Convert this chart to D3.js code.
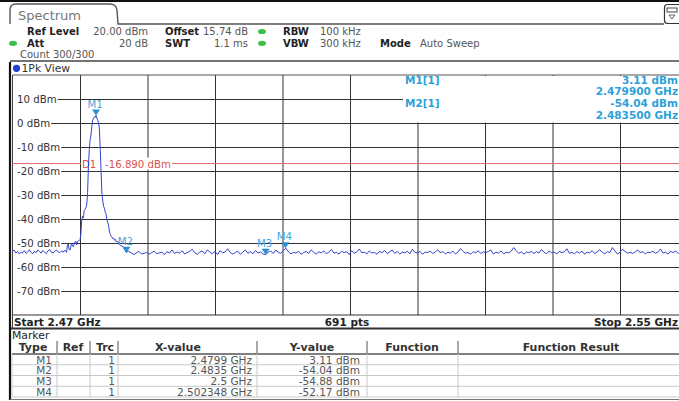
<!DOCTYPE html>
<html><head><meta charset="utf-8">
<script src="https://cdn.jsdelivr.net/npm/d3@7"></script>
<style>
html,body{margin:0;padding:0;background:#fff;}
svg{display:block;font-family:"DejaVu Sans",Verdana,sans-serif;}
</style></head><body>
<svg id="c" width="679" height="401"></svg>
<script>
// ---------- data ----------
const sweepStartGHz = 2.47, sweepStopGHz = 2.55;
const refLevelDbm = 20, refBottomDbm = -80;
const sweepPoints = 691;
const yGridDbm = [10, 0, -10, -20, -30, -40, -50, -60, -70];
const xGridGHz = [2.478, 2.486, 2.494, 2.502, 2.510, 2.518, 2.526, 2.534, 2.542];
const displayLineDbm = -16.89;

// trace: noise left of carrier, every 0.2 MHz from 2.4700 to 2.4764 GHz
const noiseLeftStartGHz = 2.4700, noiseLeftStepGHz = 0.0002;
const noiseLeftDbm = [-53.3,-53.0,-54.2,-53.5,-54.6,-53.9,-54.1,-53.2,-54.3,-53.8,
  -52.8,-53.9,-54.5,-53.4,-54.0,-52.9,-53.6,-54.2,-53.1,-53.9,
  -54.4,-53.3,-52.7,-53.8,-54.1,-53.5,-52.9,-53.7,-54.0,-53.3,
  -53.8,-53.0,-53.9];
// carrier region
const carrierFreqGHz = [2.4765,2.4766,2.4767,2.4768,2.4769,2.4770,2.4771,2.4772,2.4773,2.4774,
  2.4775,2.4776,2.4777,2.4778,2.4779,2.4780,2.4781,2.4782,2.4783,2.4784,
  2.4785,2.4786,2.4787,2.4788,2.4789,2.4790,2.4791,2.4792,2.4793,2.4794,
  2.4795,2.4796,2.4797,2.4798,2.4799,2.4800,2.4801,2.4802,2.4803,2.4804,
  2.4805,2.4806,2.4807,2.4808,2.4809,2.4810,2.4811,2.4812,2.4813,2.4814,
  2.4815,2.4816,2.4817,2.4818,2.4819,2.4820,2.4821,2.4822,2.4823,2.4825,
  2.4827,2.4829,2.4831,2.4833,2.4835,2.4837];
const carrierDbm = [-51.2,-50.4,-52.5,-53.0,-51.8,-50.0,-51.0,-51.6,-50.6,-49.6,
  -49.2,-50.8,-49.4,-49.1,-49.0,-48.6,-46.5,-40.5,-38.8,-39.5,
  -36.5,-36.0,-35.2,-34.0,-29.0,-18.0,-11.0,-7.0,-5.0,-1.5,
  1.2,1.8,2.6,2.4,3.11,2.0,1.2,0.2,-2.5,-11.0,
  -20.5,-29.5,-32.5,-34.8,-35.5,-37.2,-38.0,-40.5,-41.5,-43.0,
  -45.5,-46.5,-47.2,-47.5,-48.2,-48.0,-48.8,-48.5,-49.5,-49.4,
  -50.8,-51.2,-51.5,-52.8,-54.04,-53.2];
// noise right of carrier, every 0.3 MHz from 2.4838 to 2.5498 GHz
const noiseRightStartGHz = 2.4838, noiseRightStepGHz = 0.0003;
const noiseRightDbm = [
  -53.6,-54.2,-54.8,-54.1,-53.5,-54.6,-54.3,-53.9,-54.7,-54.0,
  -53.4,-54.5,-54.1,-53.8,-54.9,-53.6,-54.2,-52.9,-54.4,-53.7,
  -54.3,-53.2,-54.6,-54.0,-53.5,-52.6,-54.1,-54.7,-53.8,-53.3,
  -54.5,-52.8,-53.9,-54.4,-53.6,-54.8,-53.2,-54.1,-53.7,-52.4,
  -53.9,-54.6,-54.0,-53.4,-54.7,-53.8,-52.9,-54.3,-53.6,-54.5,
  -53.1,-54.2,-53.7,-54.6,-54.88,-53.9,-53.3,-54.4,-53.0,-53.8,
  -54.3,-53.2,-52.17,-53.6,-54.5,-53.9,-54.2,-53.4,-54.7,-54.0,
  -53.5,-54.4,-52.8,-53.9,-54.6,-53.7,-54.1,-53.3,-54.5,-53.8,
  -52.7,-54.2,-53.9,-54.6,-53.4,-54.0,-53.6,-54.8,-53.2,-54.3,
  -53.7,-52.5,-54.1,-53.8,-54.5,-53.3,-54.2,-53.9,-54.7,-53.5,
  -54.0,-53.1,-54.4,-53.7,-52.9,-54.3,-53.6,-54.6,-53.8,-54.1,
  -53.4,-54.5,-52.6,-53.9,-54.2,-53.5,-54.7,-53.8,-54.0,-53.3,
  -54.4,-53.7,-52.8,-54.1,-53.6,-54.5,-53.9,-54.2,-53.4,-54.6,
  -53.8,-52.3,-53.5,-54.3,-53.9,-54.7,-53.6,-54.1,-53.2,-54.4,
  -53.7,-54.0,-53.5,-52.9,-54.6,-53.8,-54.2,-53.3,-54.5,-53.9,
  -54.1,-53.4,-51.9,-53.2,-54.3,-53.7,-54.6,-53.8,-54.0,-53.5,
  -54.4,-53.6,-54.2,-52.7,-53.9,-54.5,-53.3,-54.1,-53.8,-54.6,
  -53.5,-54.0,-53.7,-52.4,-54.3,-53.9,-54.5,-53.6,-54.2,-53.4,
  -54.7,-53.8,-54.1,-53.2,-54.4,-53.7,-52.8,-53.9,-54.5,-53.6,
  -54.0,-51.9,-53.3,-54.6,-53.8,-52.6,-53.5,-54.2,-53.9,-54.4,
  -53.7,-52.9,-54.1,-53.6,-54.5,-53.8,-54.0,-53.4,-54.3,-53.7,
  -52.5,-54.2,-53.9,-54.6,-53.5,-54.0,-53.3,-54.4,-53.8,-54.1,-53.6];

// markers
const markerNames = ["M1", "M2", "M3", "M4"];
const markerTrace = [1, 1, 1, 1];
const markerFreqGHz = [2.4799, 2.4835, 2.5, 2.502348];
const markerDbm = [3.11, -54.04, -54.88, -52.17];

// ---------- build trace ----------
const trace = [];
noiseLeftDbm.forEach((v, i) => trace.push({f: noiseLeftStartGHz + i * noiseLeftStepGHz, v}));
carrierDbm.forEach((v, i) => trace.push({f: carrierFreqGHz[i], v}));
noiseRightDbm.forEach((v, i) => trace.push({f: noiseRightStartGHz + i * noiseRightStepGHz, v}));

// ---------- drawing ----------
const svg = d3.select("#c");
const P = {left: 12.5, right: 687.5, top: 75, bottom: 315};
const x = d3.scaleLinear().domain([sweepStartGHz, sweepStopGHz]).range([P.left, P.right]);
const y = d3.scaleLinear().domain([refBottomDbm, refLevelDbm]).range([P.bottom, P.top]);

svg.append("rect").attr("width", 679).attr("height", 401).attr("fill", "#fff");

// top strip
svg.append("rect").attr("x", 0).attr("y", 0).attr("width", 679).attr("height", 2).attr("fill", "#111");
// Spectrum tab
svg.append("path").attr("d", "M10,24 V10 Q10,4 16,4 H110 Q116,4 117,10 L118,24 H664")
  .attr("fill", "none").attr("stroke", "#555").attr("stroke-width", 1.4);
svg.append("text").attr("x", 18).attr("y", 15).attr("dominant-baseline", "central")
  .attr("font-size", 13).attr("fill", "#777").text("Spectrum");
// icon at right
svg.append("rect").attr("x", 664.5).attr("y", 4.5).attr("width", 20).attr("height", 19).attr("rx", 3)
  .attr("fill", "#fff").attr("stroke", "#333").attr("stroke-width", 1.2);
svg.append("rect").attr("x", 667).attr("y", 8).attr("width", 10).attr("height", 4).attr("fill", "none").attr("stroke", "#444").attr("stroke-width", 1);
svg.append("path").attr("d", "M669,15 L675,15 L672,19 Z").attr("fill", "none").attr("stroke", "#444").attr("stroke-width", 0.8);

// settings block
const hdr = svg.append("g").attr("font-size", 10);
function htxt(xx, yy, t, bold, anchor) {
  hdr.append("text").attr("x", xx).attr("y", yy).attr("dominant-baseline", "central")
    .attr("text-anchor", anchor || "start").attr("font-weight", bold ? "bold" : "normal")
    .attr("fill", bold ? "#222" : "#555").text(t);
}
function dot(cx, cy) {
  hdr.append("ellipse").attr("cx", cx).attr("cy", cy).attr("rx", 4).attr("ry", 2.6).attr("fill", "#3cc04a");
}
htxt(27, 31.5, "Ref Level", true); htxt(148, 31.5, "20.00 dBm", false, "end");
htxt(165, 31.5, "Offset", true); htxt(248, 31.5, "15.74 dB", false, "end");
dot(262, 31.5); htxt(283, 31.5, "RBW", true); htxt(320, 31.5, "100 kHz", false);
dot(13, 43.3); htxt(27, 43.3, "Att", true); htxt(148, 43.3, "20 dB", false, "end");
htxt(165, 43.3, "SWT", true); htxt(248, 43.3, "1.1 ms", false, "end");
dot(262, 43.3); htxt(283, 43.3, "VBW", true); htxt(320, 43.3, "300 kHz", false);
htxt(380, 43.3, "Mode", true); htxt(420, 43.3, "Auto Sweep", false);
htxt(20, 54.5, "Count 300/300", false);

svg.append("line").attr("x1", 10).attr("x2", 679).attr("y1", 61).attr("y2", 61).attr("stroke", "#444").attr("stroke-width", 1.6);
// view title
svg.append("circle").attr("cx", 16.5).attr("cy", 68.3).attr("r", 3.6).attr("fill", "#1f3fcf");
svg.append("text").attr("x", 21.5).attr("y", 68.5).attr("dominant-baseline", "central").attr("font-size", 10.8)
  .attr("fill", "#333").text("1Pk View");

// grid
const gH = svg.append("g").attr("transform", `translate(${P.left},0)`)
  .call(d3.axisRight(y).tickValues(yGridDbm).tickSize(P.right - P.left).tickFormat(""));
const gV = svg.append("g").attr("transform", `translate(0,${P.top})`)
  .call(d3.axisBottom(x).tickValues(xGridGHz).tickSize(P.bottom - P.top).tickFormat(""));
[gH, gV].forEach(g => { g.select(".domain").remove(); g.selectAll("line").attr("stroke", "#333").attr("stroke-width", 1); });

// plot frame
svg.append("line").attr("x1", P.left).attr("x2", 679).attr("y1", P.top).attr("y2", P.top).attr("stroke", "#555").attr("stroke-width", 1.2);
svg.append("line").attr("x1", P.left).attr("x2", 679).attr("y1", P.bottom).attr("y2", P.bottom).attr("stroke", "#333").attr("stroke-width", 1.2);
svg.append("line").attr("x1", P.left).attr("x2", P.left).attr("y1", P.top).attr("y2", 328).attr("stroke", "#444").attr("stroke-width", 1);

// marker info box (white) covering grid
svg.append("rect").attr("x", 403).attr("y", P.top + 1).attr("width", 290).attr("height", y(0) - P.top - 1.5).attr("fill", "#fff");

// y labels
const gY = svg.append("g").attr("transform", "translate(17,0)")
  .call(d3.axisRight(y).tickValues(yGridDbm).tickSize(0).tickPadding(0).tickFormat(d => d + " dBm"));
gY.select(".domain").remove();
gY.selectAll("text").attr("font-size", 10.2).attr("fill", "#333").attr("font-family", '"DejaVu Sans",Verdana,sans-serif');
gY.selectAll(".tick").each(function() {
  const t = d3.select(this).select("text");
  const b = t.node().getBBox();
  d3.select(this).insert("rect", "text").attr("x", -4).attr("y", b.y).attr("width", b.width + 5).attr("height", b.height).attr("fill", "#fff");
});

// display line D1
const dy = y(displayLineDbm);
svg.append("line").attr("x1", P.left).attr("x2", P.right).attr("y1", dy).attr("y2", dy).attr("stroke", "#e06a6a").attr("stroke-width", 1);
svg.append("rect").attr("x", 81).attr("y", dy - 6).attr("width", 91).attr("height", 12).attr("fill", "#fff");
svg.append("text").attr("x", 82).attr("y", dy + 0.5).attr("dominant-baseline", "central").attr("font-size", 10.2).attr("fill", "#d9534f").text("D1");
svg.append("text").attr("x", 105).attr("y", dy + 0.5).attr("dominant-baseline", "central").attr("font-size", 10.2).attr("fill", "#d9534f")
  .text(displayLineDbm.toFixed(3) + " dBm");

// trace
svg.append("clipPath").attr("id", "pc").append("rect").attr("x", P.left).attr("y", P.top).attr("width", P.right - P.left).attr("height", P.bottom - P.top);
svg.append("path").datum(trace).attr("clip-path", "url(#pc)")
  .attr("d", d3.line().x(d => x(d.f)).y(d => y(d.v)))
  .attr("fill", "none").attr("stroke", "#3344cc").attr("stroke-width", 1);

// markers on trace
const mk = svg.append("g");
markerNames.forEach((n, i) => {
  const cx = x(markerFreqGHz[i]), ty = y(markerDbm[i]);
  mk.append("path").attr("d", `M${cx - 4},${ty - 6} L${cx + 4},${ty - 6} L${cx},${ty} Z`).attr("fill", "#2a90d2");
  mk.append("text").attr("x", cx - 1).attr("y", ty - 11.5).attr("text-anchor", "middle").attr("dominant-baseline", "central")
    .attr("font-size", 10.2).attr("fill", "#4aa6dc").text(n);
});

// marker info text
const info = svg.append("g").attr("font-size", 10.5).attr("font-weight", "bold").attr("fill", "#2f9fd8");
[0, 1].forEach(i => {
  const y0 = i === 0 ? 79.5 : 103;
  info.append("text").attr("x", 405).attr("y", y0).attr("dominant-baseline", "central").text(markerNames[i] + "[" + markerTrace[i] + "]");
  info.append("text").attr("x", 678).attr("y", y0).attr("text-anchor", "end").attr("dominant-baseline", "central")
    .text(markerDbm[i].toFixed(2) + " dBm");
  info.append("text").attr("x", 678).attr("y", y0 + 11.5).attr("text-anchor", "end").attr("dominant-baseline", "central")
    .text(markerFreqGHz[i].toFixed(6) + " GHz");
});

// bottom bar
const bb = svg.append("g").attr("font-size", 10.5).attr("font-weight", "bold").attr("fill", "#222");
bb.append("text").attr("x", 14).attr("y", 321.5).attr("dominant-baseline", "central").text("Start " + sweepStartGHz + " GHz");
bb.append("text").attr("x", 347).attr("y", 321.5).attr("text-anchor", "middle").attr("dominant-baseline", "central").text(sweepPoints + " pts");
bb.append("text").attr("x", 678).attr("y", 321.5).attr("text-anchor", "end").attr("dominant-baseline", "central").text("Stop " + sweepStopGHz + " GHz");
svg.append("line").attr("x1", 10).attr("x2", 679).attr("y1", 328.5).attr("y2", 328.5).attr("stroke", "#333").attr("stroke-width", 2);

// left frame
svg.append("line").attr("x1", 10).attr("x2", 10).attr("y1", 62).attr("y2", 400).attr("stroke", "#111").attr("stroke-width", 2.2);

// marker table
svg.append("text").attr("x", 12).attr("y", 335.5).attr("dominant-baseline", "central").attr("font-size", 10.8).attr("fill", "#222").text("Marker");
const cols = [12, 57, 90, 118, 257, 367, 458, 690];
const heads = [["Type", 33], ["Ref", 73], ["Trc", 105], ["X-value", 178], ["Y-value", 312], ["Function", 412], ["Function Result", 571]];
const tb = svg.append("g");
heads.forEach(h => tb.append("text").attr("x", h[1]).attr("y", 347.5).attr("text-anchor", "middle").attr("dominant-baseline", "central")
  .attr("font-size", 11).attr("font-weight", "bold").attr("fill", "#333").text(h[0]));
cols.slice(1, 7).forEach(c => tb.append("line").attr("x1", c).attr("x2", c).attr("y1", 341).attr("y2", 353).attr("stroke", "#555").attr("stroke-width", 1));
const rowTop = 354, rowH = 10.75;
d3.range(markerNames.length + 1).forEach(r => tb.append("line").attr("x1", 12).attr("x2", 679).attr("y1", rowTop + r * rowH).attr("y2", rowTop + r * rowH)
  .attr("stroke", r === 0 ? "#555" : "#c8c8c8").attr("stroke-width", r === 0 ? 1.4 : 1));
cols.slice(0, 7).forEach(c => tb.append("line").attr("x1", c).attr("x2", c).attr("y1", rowTop).attr("y2", rowTop + markerNames.length * rowH)
  .attr("stroke", "#c8c8c8").attr("stroke-width", 1));
svg.append("line").attr("x1", 10).attr("x2", 679).attr("y1", 399.5).attr("y2", 399.5).attr("stroke", "#777").attr("stroke-width", 1.2);

const rows = tb.selectAll("g.row").data(markerNames).join("g").attr("class", "row")
  .attr("transform", (d, i) => `translate(0,${rowTop + i * rowH + rowH / 2 + 0.3})`)
  .attr("font-size", 10.5).attr("fill", "#555");
rows.append("text").attr("x", 52).attr("text-anchor", "end").attr("dominant-baseline", "central").text(d => d);
rows.append("text").attr("x", 115).attr("text-anchor", "end").attr("dominant-baseline", "central").text((d, i) => markerTrace[i]);
rows.append("text").attr("x", 252).attr("text-anchor", "end").attr("dominant-baseline", "central").text((d, i) => markerFreqGHz[i] + " GHz");
rows.append("text").attr("x", 360).attr("text-anchor", "end").attr("dominant-baseline", "central").text((d, i) => markerDbm[i].toFixed(2) + " dBm");
</script>
</body></html>
